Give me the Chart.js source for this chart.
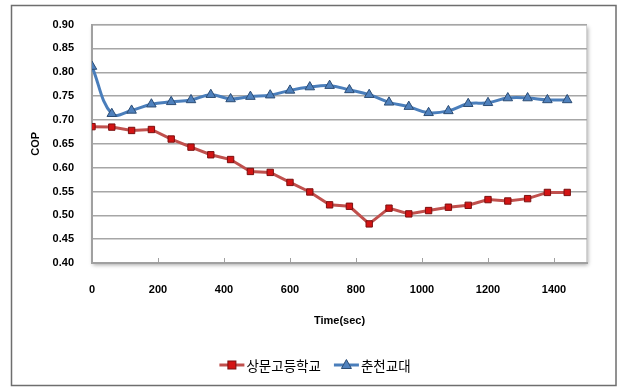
<!DOCTYPE html>
<html>
<head>
<meta charset="utf-8">
<script src="https://cdn.jsdelivr.net/npm/chart.js@4/dist/chart.umd.min.js"></script>
<style>
  html, body { margin: 0; padding: 0; background: #ffffff; }
  #wrap { width: 619px; height: 387px; position: relative; }
</style>
</head>
<body>
<div id="wrap"><canvas id="c" width="619" height="387"></canvas></div>
<script>
// ---- data ----
const timeSec = [0, 60, 120, 180, 240, 300, 360, 420, 480, 540, 600, 660, 720, 780, 840, 900, 960, 1020, 1080, 1140, 1200, 1260, 1320, 1380, 1440];
const sangmunCOP = [0.686, 0.685, 0.678, 0.680, 0.660, 0.643, 0.627, 0.617, 0.592, 0.590, 0.569, 0.549, 0.522, 0.519, 0.482, 0.515, 0.503, 0.510, 0.517, 0.521, 0.533, 0.530, 0.535, 0.548, 0.548];
const chuncheonCOP = [0.812, 0.713, 0.720, 0.733, 0.738, 0.742, 0.753, 0.744, 0.749, 0.752, 0.762, 0.769, 0.772, 0.763, 0.753, 0.737, 0.728, 0.715, 0.719, 0.734, 0.736, 0.746, 0.746, 0.742, 0.742];
const seriesNames = ['상문고등학교', '춘천교대'];
const xTickValues = [0, 200, 400, 600, 800, 1000, 1200, 1400];
const yTickValues = [0.40, 0.45, 0.50, 0.55, 0.60, 0.65, 0.70, 0.75, 0.80, 0.85, 0.90];
const xTitle = 'Time(sec)';
const yTitle = 'COP';

const RED_LINE = '#C0504D', RED_FILL = '#D41414', RED_EDGE = '#7A1010';
const BLUE_LINE = '#4A7EBB', BLUE_FILL = '#4F81BD', BLUE_EDGE = '#2C4D75';
const AX_FONT = 'Liberation Sans, Arial, sans-serif';
const KR_FONT = '"Noto Sans CJK KR", sans-serif';

function pts(ys) { return timeSec.map((t, i) => ({ x: t, y: ys[i] })); }

const framePlugin = {
  id: 'frame',
  beforeDraw(chart) {
    const ctx = chart.ctx, a = chart.chartArea;
    ctx.save();
    ctx.fillStyle = '#ffffff';
    ctx.fillRect(0, 0, chart.width, chart.height);
    // outer frame
    ctx.strokeStyle = '#6e6e6e';
    ctx.lineWidth = 1.5;
    ctx.strokeRect(11.5, 5.5, 604.5, 380);
    // plot area with soft shadow
    ctx.shadowColor = 'rgba(0,0,0,0.35)';
    ctx.shadowBlur = 4;
    ctx.shadowOffsetX = 1;
    ctx.shadowOffsetY = 2;
    ctx.fillStyle = '#ffffff';
    ctx.fillRect(a.left, a.top, a.right - a.left, a.bottom - a.top);
    ctx.restore();
    ctx.save();
    ctx.strokeStyle = '#d4d4d4';
    ctx.lineWidth = 1;
    ctx.strokeRect(a.left + 0.5, a.top + 0.5, a.right - a.left - 1, a.bottom - a.top - 1);
    ctx.restore();
  },
  afterDatasetsDraw(chart) {},
  afterDraw(chart) {
    const ctx = chart.ctx, a = chart.chartArea, xs = chart.scales.x;
    ctx.save();
    // small inner tick marks on the x axis
    ctx.strokeStyle = '#a0a0a0';
    ctx.lineWidth = 1;
    xTickValues.forEach(v => {
      if (v === 0) return;
      const px = Math.round(xs.getPixelForValue(v)) + 0.5;
      ctx.beginPath();
      ctx.moveTo(px, a.bottom - 5);
      ctx.lineTo(px, a.bottom);
      ctx.stroke();
    });
    // legend
    const fontPx = 13.5;
    ctx.font = fontPx + 'px ' + KR_FONT;
    ctx.textBaseline = 'middle';
    ctx.textAlign = 'left';
    const sample = 25, gapText = 2, gapItem = 13;
    const widths = seriesNames.map(n => ctx.measureText(n).width);
    const total = widths.reduce((s, w) => s + sample + gapText + w, 0) + gapItem * (seriesNames.length - 1);
    let x = 315 - total / 2;
    const y = 365;
    const styles = [
      { line: RED_LINE, fill: RED_FILL, edge: RED_EDGE, shape: 'rect' },
      { line: BLUE_LINE, fill: BLUE_FILL, edge: BLUE_EDGE, shape: 'tri' }
    ];
    seriesNames.forEach((n, i) => {
      const s = styles[i];
      ctx.strokeStyle = s.line;
      ctx.lineWidth = 3;
      ctx.beginPath();
      ctx.moveTo(x, y);
      ctx.lineTo(x + sample, y);
      ctx.stroke();
      const cx = x + sample / 2;
      ctx.fillStyle = s.fill;
      ctx.strokeStyle = s.edge;
      ctx.lineWidth = 1;
      if (s.shape === 'rect') {
        ctx.fillRect(cx - 4, y - 4, 8, 8);
        ctx.strokeRect(cx - 4, y - 4, 8, 8);
      } else {
        ctx.beginPath();
        ctx.moveTo(cx, y - 5.5);
        ctx.lineTo(cx + 5, y + 3.5);
        ctx.lineTo(cx - 5, y + 3.5);
        ctx.closePath();
        ctx.fill();
        ctx.stroke();
      }
      ctx.fillStyle = '#000000';
      ctx.fillText(n, x + sample + gapText, y + 1);
      x += sample + gapText + widths[i] + gapItem;
    });
    ctx.restore();
  }
};

new Chart(document.getElementById('c'), {
  type: 'line',
  data: {
    datasets: [
      {
        label: seriesNames[0],
        data: pts(sangmunCOP),
        borderColor: RED_LINE,
        borderWidth: 3,
        backgroundColor: RED_FILL,
        pointStyle: 'rect',
        pointRadius: 4.5,
        pointBorderColor: RED_EDGE,
        pointBorderWidth: 1,
        pointBackgroundColor: RED_FILL,
        tension: 0,
        order: 2
      },
      {
        label: seriesNames[1],
        data: pts(chuncheonCOP),
        borderColor: BLUE_LINE,
        borderWidth: 3,
        backgroundColor: BLUE_FILL,
        pointStyle: 'triangle',
        pointRadius: 5.5,
        pointBorderColor: BLUE_EDGE,
        pointBorderWidth: 1,
        pointBackgroundColor: BLUE_FILL,
        tension: 0.4,
        cubicInterpolationMode: 'default',
        order: 1
      }
    ]
  },
  options: {
    responsive: false,
    animation: false,
    layout: { padding: { left: 24, right: 32, top: 24, bottom: 54 } },
    plugins: {
      legend: { display: false },
      tooltip: { enabled: false }
    },
    scales: {
      x: {
        type: 'linear',
        min: 0,
        max: 1500,
        afterFit(scale) { scale.height = 70; },
        afterBuildTicks(scale) { scale.ticks = xTickValues.map(v => ({ value: v })); },
        grid: { display: false, drawTicks: false },
        border: { display: true, color: '#a0a0a0', width: 2 },
        ticks: {
          padding: 20,
          maxRotation: 0,
          autoSkip: false,
          color: '#000000',
          font: { family: AX_FONT, size: 11, weight: 'bold' },
          callback: v => String(v)
        },
        title: {
          display: true,
          text: xTitle,
          color: '#000000',
          font: { family: AX_FONT, size: 11, weight: 'bold' },
          padding: { top: 0, bottom: 5 }
        }
      },
      y: {
        type: 'linear',
        min: 0.4,
        max: 0.9,
        afterFit(scale) { scale.width = 68; },
        afterBuildTicks(scale) { scale.ticks = yTickValues.map(v => ({ value: v })); },
        grid: { color: '#a6a6a6', lineWidth: 1.5, drawTicks: false },
        border: { display: true, color: '#a0a0a0', width: 2 },
        ticks: {
          padding: 18,
          color: '#000000',
          font: { family: AX_FONT, size: 11, weight: 'bold' },
          callback: v => Number(v).toFixed(2)
        },
        title: {
          display: true,
          text: yTitle,
          color: '#000000',
          font: { family: AX_FONT, size: 11, weight: 'bold' },
          padding: { top: 5, bottom: 0 }
        }
      }
    }
  },
  plugins: [framePlugin]
});
</script>
</body>
</html>
